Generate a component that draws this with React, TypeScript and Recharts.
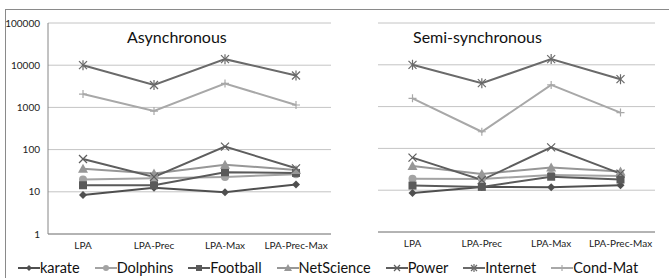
import React from 'react';
import { LineChart, Line, XAxis, YAxis, CartesianGrid } from 'recharts';

const categories = ['LPA', 'LPA-Prec', 'LPA-Max', 'LPA-Prec-Max'];
const yTicks = [1, 10, 100, 1000, 10000, 100000];

// Asynchronous panel
const asyncKarate = [8.4, 12.5, 9.8, 14.9];
const asyncDolphins = [19.5, 21, 22.5, 26];
const asyncFootball = [14.3, 14.3, 29, 28];
const asyncNetScience = [35, 27, 44, 33];
const asyncPower = [60, 22.5, 118, 36];
const asyncInternet = [10000, 3400, 13900, 5700];
const asyncCondMat = [2070, 820, 3690, 1140];

// Semi-synchronous panel
const semiKarate = [8.6, 12, 11.8, 13.2];
const semiDolphins = [18.8, 18.6, 23, 22];
const semiFootball = [12.9, 12, 21, 18];
const semiNetScience = [38, 24.5, 35, 28];
const semiPower = [60, 17.5, 106, 25];
const semiInternet = [10000, 3630, 13700, 4530];
const semiCondMat = [1580, 250, 3300, 720];

type Shape = 'diamond' | 'circle' | 'square' | 'triangle' | 'x' | 'star' | 'plus';

const seriesInfo: { key: string; color: string; shape: Shape }[] = [
  { key: 'karate', color: '#4f4f4f', shape: 'diamond' },
  { key: 'Dolphins', color: '#a3a3a3', shape: 'circle' },
  { key: 'Football', color: '#5a5a5a', shape: 'square' },
  { key: 'NetScience', color: '#979797', shape: 'triangle' },
  { key: 'Power', color: '#5e5e5e', shape: 'x' },
  { key: 'Internet', color: '#6a6a6a', shape: 'star' },
  { key: 'Cond-Mat', color: '#a8a8a8', shape: 'plus' },
];

const buildRows = (cols: number[][]) =>
  categories.map((cat, i) => {
    const row: any = { cat };
    seriesInfo.forEach((s, j) => {
      row[s.key] = cols[j][i];
    });
    return row;
  });

const asyncData = buildRows([
  asyncKarate, asyncDolphins, asyncFootball, asyncNetScience, asyncPower, asyncInternet, asyncCondMat,
]);
const semiData = buildRows([
  semiKarate, semiDolphins, semiFootball, semiNetScience, semiPower, semiInternet, semiCondMat,
]);

const FONT = 'Lato, "Open Sans", "Liberation Sans", sans-serif';

const Marker = ({ shape, cx, cy, color, s = 4 }: { shape: Shape; cx: number; cy: number; color: string; s?: number }) => {
  if (cx == null || cy == null) return null;
  switch (shape) {
    case 'diamond':
      return <polygon points={`${cx},${cy - s} ${cx + s},${cy} ${cx},${cy + s} ${cx - s},${cy}`} fill={color} />;
    case 'circle':
      return <circle cx={cx} cy={cy} r={s} fill={color} />;
    case 'square':
      return <rect x={cx - s} y={cy - s} width={s * 2} height={s * 2} fill={color} />;
    case 'triangle':
      return <polygon points={`${cx},${cy - s - 1} ${cx + s + 1},${cy + s} ${cx - s - 1},${cy + s}`} fill={color} />;
    case 'x':
      return (
        <g stroke={color} strokeWidth={1.2}>
          <line x1={cx - s} y1={cy - s} x2={cx + s} y2={cy + s} />
          <line x1={cx - s} y1={cy + s} x2={cx + s} y2={cy - s} />
        </g>
      );
    case 'star':
      return (
        <g stroke={color} strokeWidth={1.2}>
          <line x1={cx - s} y1={cy - s} x2={cx + s} y2={cy + s} />
          <line x1={cx - s} y1={cy + s} x2={cx + s} y2={cy - s} />
          <line x1={cx} y1={cy - s - 1} x2={cx} y2={cy + s + 1} />
        </g>
      );
    case 'plus':
      return (
        <g stroke={color} strokeWidth={1.2}>
          <line x1={cx - s} y1={cy} x2={cx + s} y2={cy} />
          <line x1={cx} y1={cy - s} x2={cx} y2={cy + s} />
        </g>
      );
  }
  return null;
};

const renderLines = (panel: string) =>
  seriesInfo.map((s) => (
    <Line
      key={s.key}
      dataKey={s.key}
      stroke={s.color}
      strokeWidth={2}
      isAnimationActive={false}
      dot={(p: any) => (
        <g key={`${panel}-${s.key}-${p.index}`}>
          <Marker shape={s.shape} cx={p.cx} cy={p.cy} color={s.color} />
        </g>
      )}
      activeDot={false}
    />
  ));

const tickStyle = { fontSize: 10, fill: '#222', fontFamily: FONT };

export default function App() {
  return (
    <div style={{ position: 'absolute', left: 0, top: 0, width: 669, height: 278, overflow: 'hidden', background: '#fff', fontFamily: FONT }}>
      <div style={{ position: 'absolute', left: 5, top: 9, width: 720, height: 320, border: '1px solid #8a8a8a' }} />

      <div style={{ position: 'absolute', left: 0, top: 0 }}>
        <LineChart width={335} height={264} data={asyncData} margin={{ top: 23, right: 4, left: 0, bottom: 0 }}>
          <CartesianGrid vertical={false} stroke="#c4c4c4" />
          <XAxis
            dataKey="cat"
            height={30}
            padding={{ left: 35, right: 35 }}
            tickLine={false}
            axisLine={{ stroke: '#868686' }}
            tick={tickStyle}
            interval={0}
          />
          <YAxis
            width={48}
            scale="log"
            domain={[1, 100000]}
            ticks={yTicks}
            allowDataOverflow
            tickLine={false}
            axisLine={{ stroke: '#868686' }}
            tick={tickStyle}
            interval={0}
          />
          {renderLines('a')}
        </LineChart>
      </div>

      <div style={{ position: 'absolute', left: 330, top: 0 }}>
        <LineChart width={339} height={264} data={semiData} margin={{ top: 23, right: 14, left: 48, bottom: 0 }}>
          <CartesianGrid vertical={false} stroke="#c4c4c4" />
          <XAxis
            dataKey="cat"
            height={32}
            padding={{ left: 34.5, right: 34.5 }}
            tickLine={false}
            axisLine={{ stroke: '#868686' }}
            tick={tickStyle}
            interval={0}
          />
          <YAxis hide scale="log" domain={[1, 100000]} ticks={yTicks} allowDataOverflow />
          {renderLines('s')}
        </LineChart>
      </div>

      <div style={{ position: 'absolute', left: 127, top: 27, fontSize: 16, lineHeight: '20px', color: '#111' }}>Asynchronous</div>
      <div style={{ position: 'absolute', left: 413, top: 27, fontSize: 16, lineHeight: '20px', color: '#111' }}>Semi-synchronous</div>

      <div
        style={{
          position: 'absolute',
          left: 18,
          top: 259,
          height: 18,
          display: 'flex',
          alignItems: 'center',
          gap: 15,
          fontSize: 14.5,
          lineHeight: '18px',
          color: '#111',
          whiteSpace: 'nowrap',
        }}
      >
        {seriesInfo.map((s) => (
          <div key={s.key} style={{ display: 'flex', alignItems: 'center', flexShrink: 0 }}>
            <svg width={22} height={12} style={{ display: 'block' }}>
              <line x1={0} y1={6} x2={22} y2={6} stroke={s.color} strokeWidth={2} />
              <Marker shape={s.shape} cx={11} cy={6} color={s.color} s={3} />
            </svg>
            <span>{s.key}</span>
          </div>
        ))}
      </div>
    </div>
  );
}
